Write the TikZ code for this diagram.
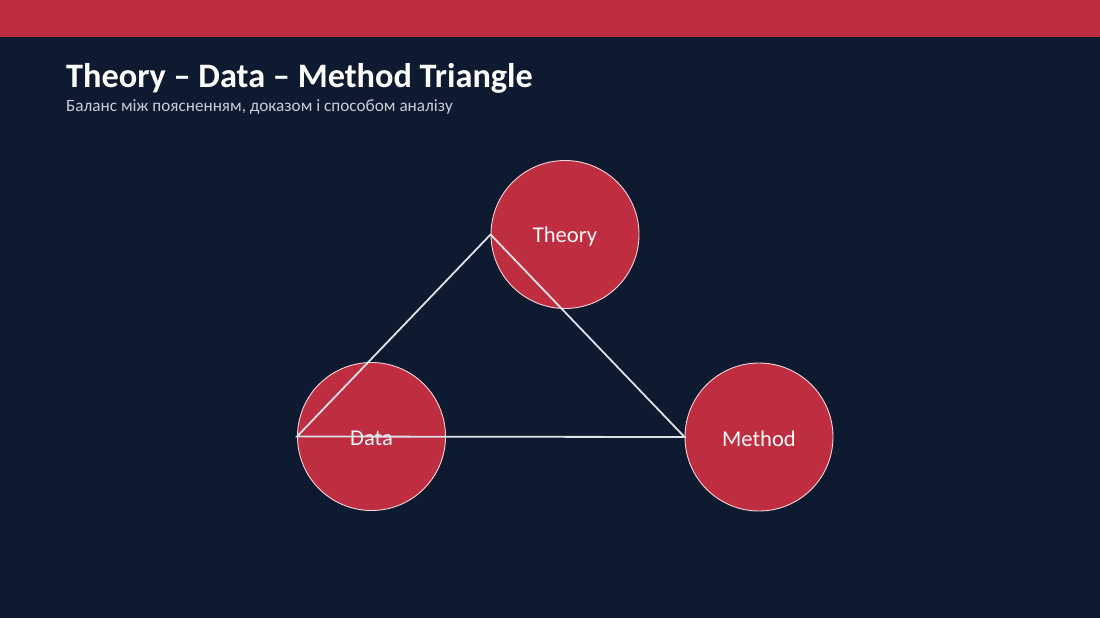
\documentclass[tikz,border=0pt]{standalone}
\usepackage{fontspec}
\setmainfont{Carlito}
\definecolor{bg}{HTML}{0E1A2F}
\definecolor{accent}{HTML}{BE2D40}
\definecolor{edge}{HTML}{DDE1E8}
\definecolor{subt}{HTML}{C9CDD6}
\tikzset{
  circ/.style={circle, fill=accent, draw=white!80!accent, line width=0.9pt, minimum size=148pt, inner sep=0pt},
  lbl/.style={text=white!96!accent, font=\fontsize{22.6}{27}\selectfont, yshift=-1.5pt},
  link/.style={draw=edge, line width=1.8pt},
}
\begin{document}
\begin{tikzpicture}[x=1pt,y=-1pt]
\useasboundingbox (0,0) rectangle (1100,618);
\fill[bg] (0,0) rectangle (1100,618);
\fill[accent] (0,0) rectangle (1100,37);
\node[anchor=base west, inner sep=0pt, text=white, font=\fontsize{34.3}{41}\selectfont\bfseries] (title) at (66,87) {Theory – Data – Method Triangle};
\node[anchor=base west, inner sep=0pt, text=subt, font=\fontsize{17.2}{20}\selectfont] (sub) at (66,111) {Баланс між поясненням, доказом і способом аналізу};
\node[circ] (theory) at (565,234.5) {};
\node[circ] (data) at (371.5,436.5) {};
\node[circ] (method) at (759,437) {};
\node[lbl] (tl) at (theory.center) {Theory};
\node[lbl] (dl) at (data.center) {Data};
\node[lbl] (ml) at (method.center) {Method};
\draw[link] (theory.west) -- (data.west) -- (method.west) -- (theory.west) -- cycle;
\end{tikzpicture}
\end{document}
